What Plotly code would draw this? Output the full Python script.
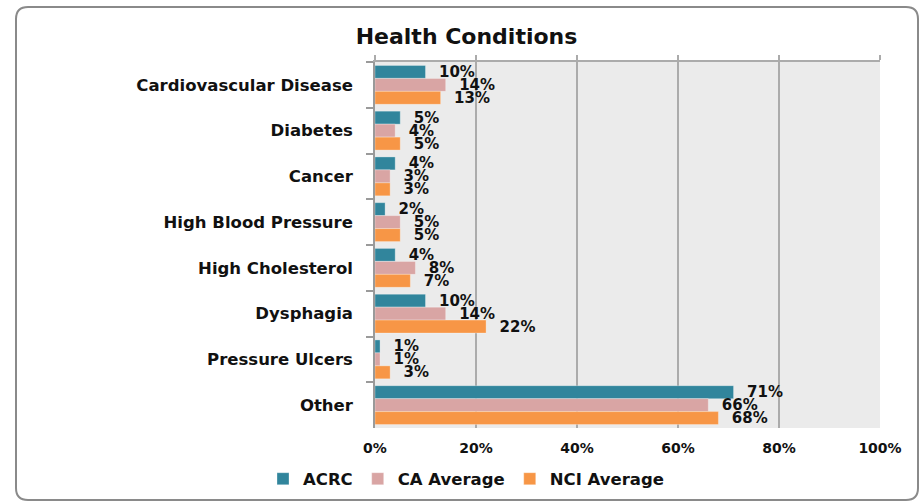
import plotly.graph_objects as go

categories = ["Cardiovascular Disease", "Diabetes", "Cancer", "High Blood Pressure",
              "High Cholesterol", "Dysphagia", "Pressure Ulcers", "Other"]
acrc = [10, 5, 4, 2, 4, 10, 1, 71]
ca_avg = [14, 4, 3, 5, 8, 14, 1, 66]
nci_avg = [13, 5, 3, 5, 7, 22, 3, 68]
series_names = ["ACRC", "CA Average", "NCI Average"]
series_colors = ["#31859C", "#D9A5A4", "#F79646"]
x_ticks = [0, 20, 40, 60, 80, 100]
x_tick_labels = ["0%", "20%", "40%", "60%", "80%", "100%"]

FONT = "DejaVu Sans"
W, H = 921, 503
ML, MR, MT, MB = 375, 41, 62, 75
PW, PH = W - ML - MR, H - MT - MB

fig = go.Figure()
for name, vals, col in zip(series_names, [acrc, ca_avg, nci_avg], series_colors):
    fig.add_trace(go.Bar(
        y=categories, x=vals, name=name, orientation="h",
        marker=dict(color=col, line=dict(color="rgba(255,255,255,0.5)", width=0.6)),
        text=[f"\u00a0\u00a0{v}%" for v in vals],
        textposition="outside",
        textfont=dict(family=FONT, size=15, color="#111111", weight="bold"),
        constraintext="none",
        cliponaxis=False,
        hoverinfo="skip",
    ))

# outer rounded border (pixel -> paper coords)
def px(xp):
    return (xp - ML) / PW

def py(yp):
    return (H - MB - yp) / PH

x0, x1, y0, y1, r = 16, 918, 7, 500, 12
path = (f"M {px(x0 + r)},{py(y0)} L {px(x1 - r)},{py(y0)} "
        f"Q {px(x1)},{py(y0)} {px(x1)},{py(y0 + r)} "
        f"L {px(x1)},{py(y1 - r)} Q {px(x1)},{py(y1)} {px(x1 - r)},{py(y1)} "
        f"L {px(x0 + r)},{py(y1)} Q {px(x0)},{py(y1)} {px(x0)},{py(y1 - r)} "
        f"L {px(x0)},{py(y0 + r)} Q {px(x0)},{py(y0)} {px(x0 + r)},{py(y0)} Z")

fig.update_layout(
    width=W, height=H,
    margin=dict(l=ML, r=MR, t=MT, b=MB, autoexpand=False),
    paper_bgcolor="white",
    plot_bgcolor="#EBEBEB",
    barmode="group",
    bargap=0.15,
    bargroupgap=0,
    font=dict(family=FONT, color="#111111"),
    title=dict(text="Health Conditions", xref="container", x=466.5 / W, xanchor="center",
               yref="container", y=1 - 36 / H, yanchor="middle",
               font=dict(family=FONT, size=22, color="#111111", weight="bold")),
    xaxis=dict(range=[0, 100], tickvals=x_ticks, ticktext=x_tick_labels,
               showgrid=True, gridcolor="#ABABAB", gridwidth=1.5,
               zeroline=False, showline=False, ticks="",
               tickfont=dict(family=FONT, size=14, color="#111111", weight="bold"),
               ticklabelstandoff=10, fixedrange=True),
    xaxis2=dict(range=[0, 100], tickvals=x_ticks, overlaying="x", side="top",
                matches="x", showgrid=False, zeroline=False, showticklabels=False,
                ticks="outside", ticklen=5, tickcolor="#ABABAB", tickwidth=1.5,
                showline=True, linecolor="#ABABAB", linewidth=1.5),
    yaxis=dict(categoryorder="array", categoryarray=categories, autorange="reversed",
               showline=True, linecolor="#9A9A9A", linewidth=1.5,
               ticks="outside", tickson="boundaries", ticklen=7, tickcolor="#9A9A9A",
               tickwidth=1.5, showgrid=False,
               tickfont=dict(family=FONT, size=16.5, color="#111111", weight="bold"),
               ticklabelstandoff=17),
    legend=dict(orientation="h", xref="container", x=466 / W, xanchor="center",
                yref="container", y=1 - 479 / H, yanchor="middle",
                font=dict(family=FONT, size=16.5, color="#111111", weight="bold"),
                traceorder="normal", itemclick=False, itemdoubleclick=False),
    shapes=[dict(type="path", path=path, xref="paper", yref="paper",
                 line=dict(color="#8A8A8A", width=2), fillcolor="rgba(0,0,0,0)",
                 layer="above")],
    showlegend=True,
)

# dummy invisible trace to activate the top axis
fig.add_trace(go.Scatter(x=[0], y=[categories[0]], xaxis="x2", mode="markers",
                         marker=dict(opacity=0), showlegend=False, hoverinfo="skip"))

fig.write_html("out.html", config={"displayModeBar": False},
               post_script="document.body.style.margin='0';document.body.style.overflow='hidden';")
